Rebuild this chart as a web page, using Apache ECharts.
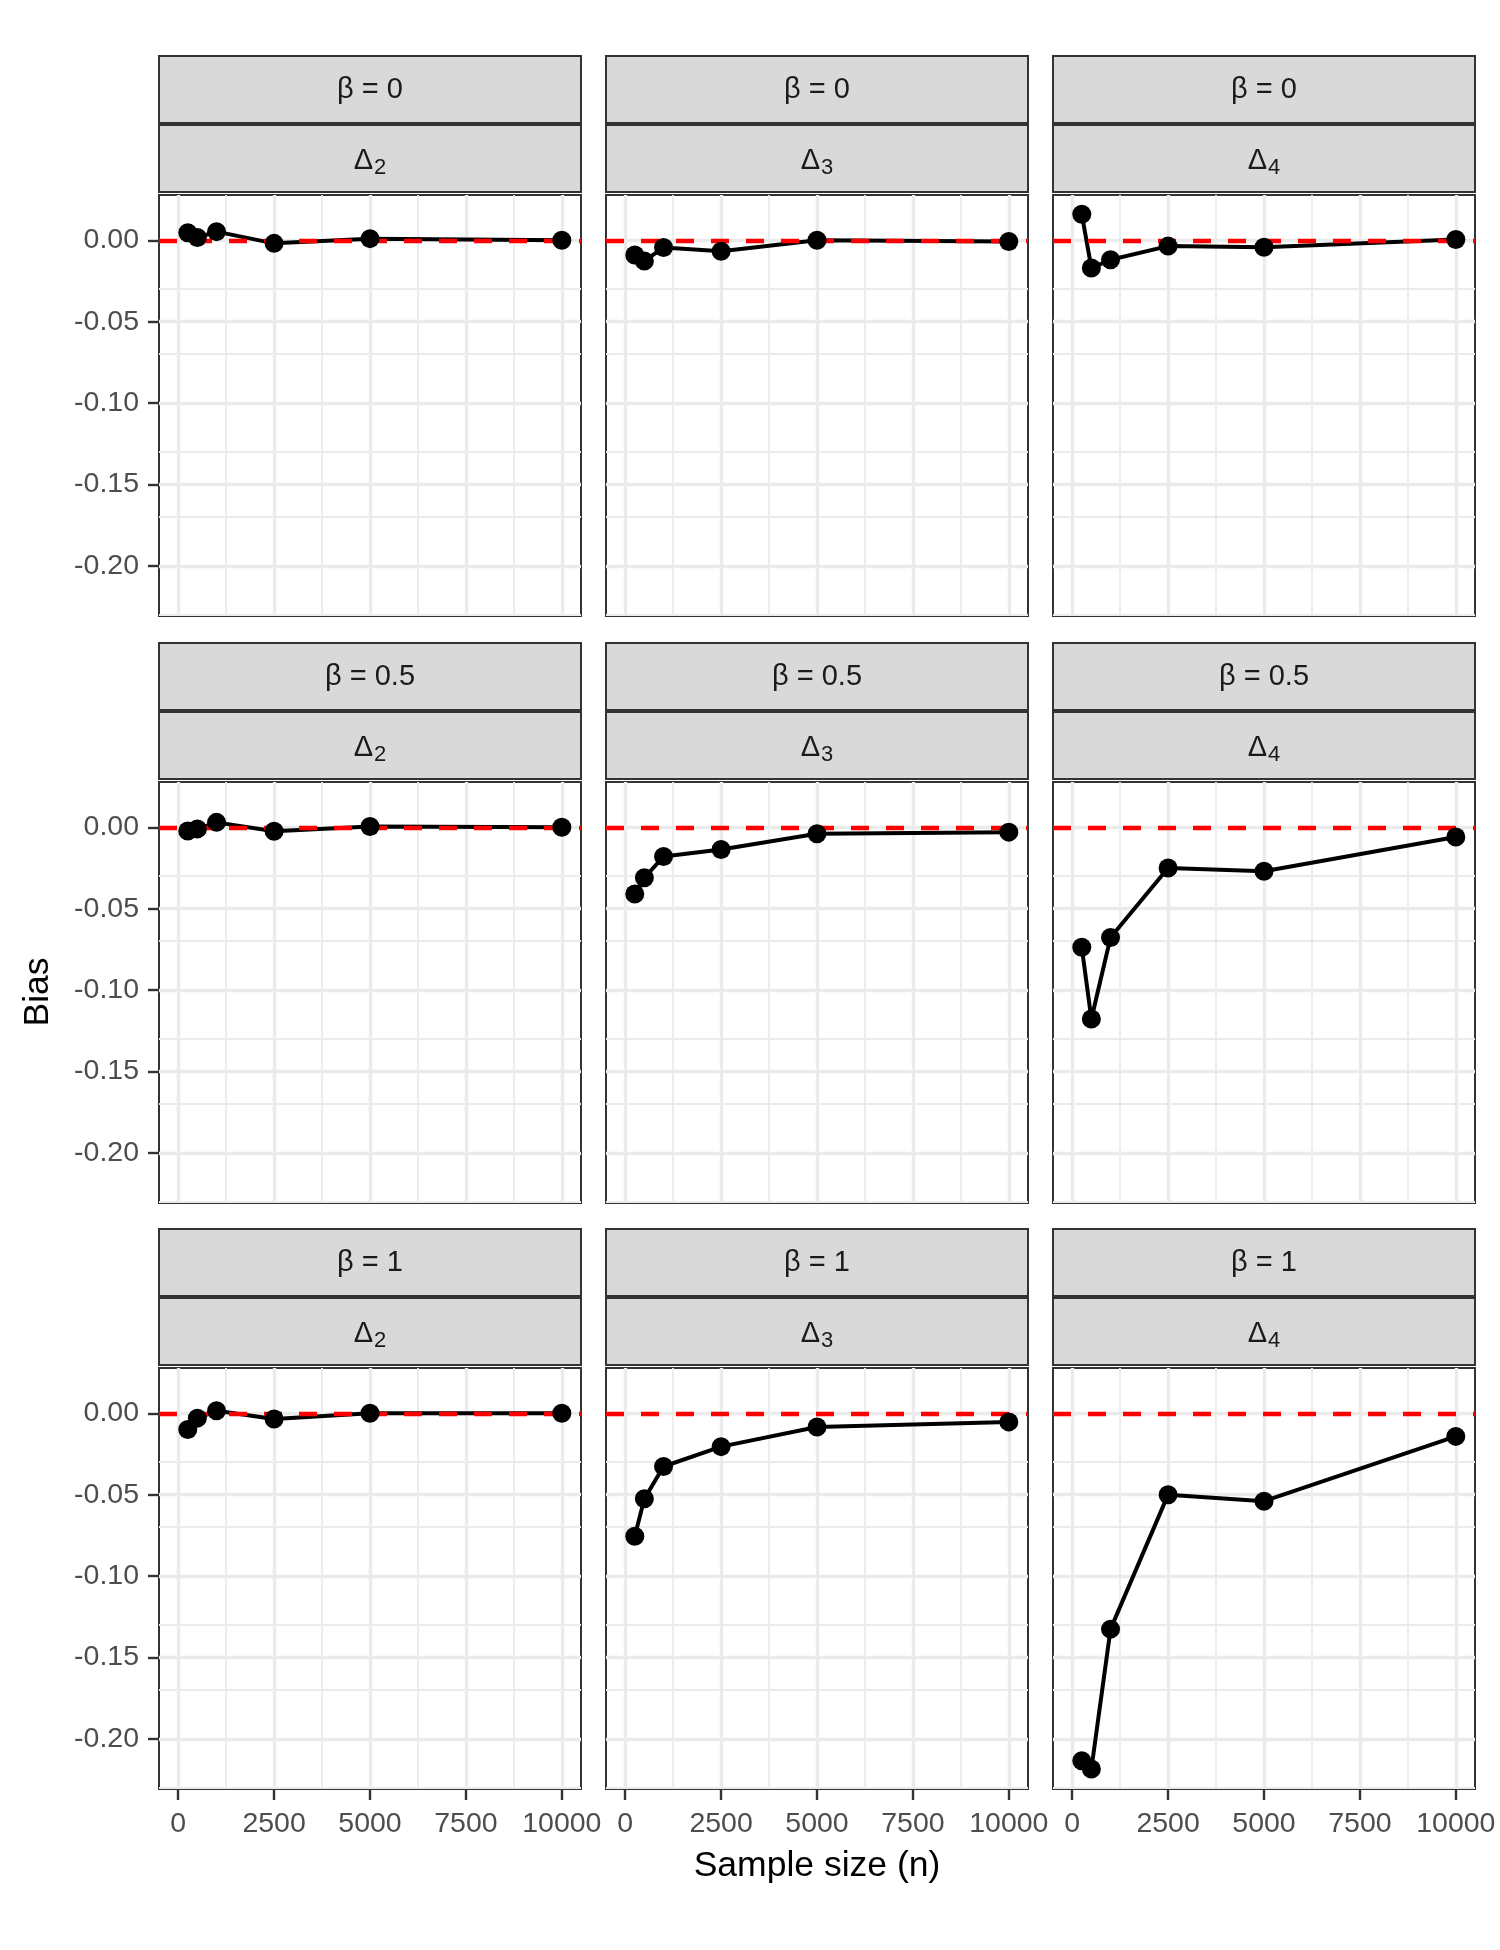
<!DOCTYPE html>
<html>
<head>
<meta charset="utf-8">
<script src="https://cdn.jsdelivr.net/npm/echarts@6/dist/echarts.min.js"></script>
<style>
html,body{margin:0;padding:0;background:#fff;}
#chart{width:1500px;height:1950px;}
</style>
</head>
<body>
<div id="chart"></div>
<script>
// ---------------- data ----------------
const sampleSizes = [250, 500, 1000, 2500, 5000, 10000];
const betaLabels = ['0', '0.5', '1'];
const deltaLabels = ['2', '3', '4'];
const xTickValues = [0, 2500, 5000, 7500, 10000];
const xMinorValues = [1250, 3750, 6250, 8750];
const yTickValues = [-0.20, -0.15, -0.10, -0.05, 0.00];
const yMinorValues = [0.025, -0.025, -0.075, -0.125, -0.175, -0.225];

const bias_b0_d2  = [0.0046, 0.0017, 0.0053, -0.0019, 0.0010, 0.0000];
const bias_b0_d3  = [-0.0091, -0.0127, -0.0045, -0.0068, 0.0000, -0.0008];
const bias_b0_d4  = [0.0160, -0.0170, -0.0120, -0.0036, -0.0043, 0.0005];
const bias_b05_d2 = [-0.0023, -0.0010, 0.0030, -0.0025, 0.0005, 0.0000];
const bias_b05_d3 = [-0.0410, -0.0310, -0.0180, -0.0137, -0.0040, -0.0030];
const bias_b05_d4 = [-0.0737, -0.1178, -0.0677, -0.0250, -0.0270, -0.0060];
const bias_b1_d2  = [-0.0100, -0.0030, 0.0015, -0.0035, 0.0000, 0.0000];
const bias_b1_d3  = [-0.0755, -0.0525, -0.0327, -0.0205, -0.0084, -0.0053];
const bias_b1_d4  = [-0.2135, -0.2185, -0.1326, -0.0500, -0.0540, -0.0142];

const panelData = [
  [bias_b0_d2, bias_b0_d3, bias_b0_d4],
  [bias_b05_d2, bias_b05_d3, bias_b05_d4],
  [bias_b1_d2, bias_b1_d3, bias_b1_d4]
];

// ---------------- layout ----------------
const FONT = 'Liberation Sans';
const colLeft = [159, 606, 1053];
const rowTop = [195, 782, 1368];
const panelW = 422, panelH = 421;
const xMin = -500, xMax = 10500;
const yMin = -0.2308, yMax = 0.0278;

const grids = [], xAxes = [], yAxes = [], series = [], graphics = [];
let idx = 0;
for (let r = 0; r < 3; r++) {
  for (let c = 0; c < 3; c++) {
    const left = colLeft[c], top = rowTop[r];
    grids.push({left: left, top: top, width: panelW, height: panelH,
      show: true, borderColor: '#333333', borderWidth: 2, backgroundColor: '#ffffff', z: 0});
    const showX = (r === 2), showY = (c === 0);
    xAxes.push({type: 'value', gridIndex: idx, min: xMin, max: xMax,
      axisLine: {show: false, onZero: false},
      axisTick: {show: showX, customValues: xTickValues, length: 11, lineStyle: {color: '#333333', width: 2.4}},
      axisLabel: {show: showX, customValues: xTickValues, margin: 21, fontFamily: FONT, fontSize: 28.5, color: '#4D4D4D',
        showMinLabel: true, showMaxLabel: true, formatter: v => String(v)},
      splitLine: {show: false}});
    yAxes.push({type: 'value', gridIndex: idx, min: yMin, max: yMax,
      axisLine: {show: false, onZero: false},
      axisTick: {show: showY, customValues: yTickValues, length: 11, lineStyle: {color: '#333333', width: 2.4}},
      axisLabel: {show: showY, customValues: yTickValues, margin: 20, fontFamily: FONT, fontSize: 28.5, color: '#4D4D4D',
        showMinLabel: true, showMaxLabel: true, formatter: v => Number(v).toFixed(2)},
      splitLine: {show: false}});

    // grid lines through markLine
    const gl = [];
    xMinorValues.forEach(v => gl.push({xAxis: v, lineStyle: {color: '#EBEBEB', width: 1.8, type: 'solid'}}));
    yMinorValues.forEach(v => gl.push({yAxis: v, lineStyle: {color: '#EBEBEB', width: 1.8, type: 'solid'}}));
    xTickValues.forEach(v => gl.push({xAxis: v, lineStyle: {color: '#EBEBEB', width: 3.4, type: 'solid'}}));
    yTickValues.forEach(v => gl.push({yAxis: v, lineStyle: {color: '#EBEBEB', width: 3.4, type: 'solid'}}));
    series.push({type: 'line', xAxisIndex: idx, yAxisIndex: idx, data: [], silent: true, z: 1,
      markLine: {silent: true, z: 1, symbol: ['none', 'none'], label: {show: false}, animation: false, data: gl}});

    const pts = sampleSizes.map((n, k) => [n, panelData[r][c][k]]);
    series.push({type: 'line', xAxisIndex: idx, yAxisIndex: idx, data: pts, showSymbol: false, silent: true,
      z: 2, lineStyle: {color: '#000000', width: 4}, animation: false});
    series.push({type: 'line', xAxisIndex: idx, yAxisIndex: idx, data: [], silent: true, z: 3,
      markLine: {silent: true, z: 3, symbol: ['none', 'none'], label: {show: false}, animation: false,
        data: [{yAxis: 0}], lineStyle: {color: '#FF0000', width: 4.3, type: [18, 17], opacity: 1}}});
    series.push({type: 'scatter', xAxisIndex: idx, yAxisIndex: idx, data: pts, symbol: 'circle', symbolSize: 19,
      itemStyle: {color: '#000000', opacity: 1}, z: 4, silent: true, animation: false});

    // strips
    const s1y = top - 139, s2y = top - 70;
    graphics.push({type: 'rect', z: 10, shape: {x: left, y: s1y, width: panelW, height: 67},
      style: {fill: '#D9D9D9', stroke: '#333333', lineWidth: 2}});
    graphics.push({type: 'rect', z: 10, shape: {x: left, y: s2y, width: panelW, height: 67},
      style: {fill: '#D9D9D9', stroke: '#333333', lineWidth: 2}});
    graphics.push({type: 'text', z: 11, x: left + panelW / 2, y: s1y + 34,
      style: {text: 'β = ' + betaLabels[r], font: '29px ' + FONT, fill: '#1A1A1A', align: 'center', verticalAlign: 'middle'}});
    graphics.push({type: 'text', z: 11, x: left + panelW / 2, y: s2y + 36,
      style: {text: '{b|Δ}{s|' + deltaLabels[c] + '}', align: 'center', verticalAlign: 'middle', fill: '#1A1A1A',
        rich: {
          b: {fontFamily: FONT, fontSize: 29, lineHeight: 40, verticalAlign: 'middle', fill: '#1A1A1A'},
          s: {fontFamily: FONT, fontSize: 22, lineHeight: 40, verticalAlign: 'bottom', fill: '#1A1A1A', padding: [0, 0, 2, 1]}
        }}});
    idx++;
  }
}

graphics.push({type: 'text', x: 817, y: 1866,
  style: {text: 'Sample size (n)', font: '35.5px ' + FONT, fill: '#000000', align: 'center', verticalAlign: 'middle'}});
graphics.push({type: 'text', x: 38, y: 992, rotation: Math.PI / 2,
  style: {text: 'Bias', font: '35.5px ' + FONT, fill: '#000000', align: 'center', verticalAlign: 'middle'}});

const chart = echarts.init(document.getElementById('chart'), null, {renderer: 'canvas'});
chart.setOption({
  animation: false,
  backgroundColor: '#ffffff',
  grid: grids,
  xAxis: xAxes,
  yAxis: yAxes,
  series: series,
  graphic: graphics
});
</script>
</body>
</html>
